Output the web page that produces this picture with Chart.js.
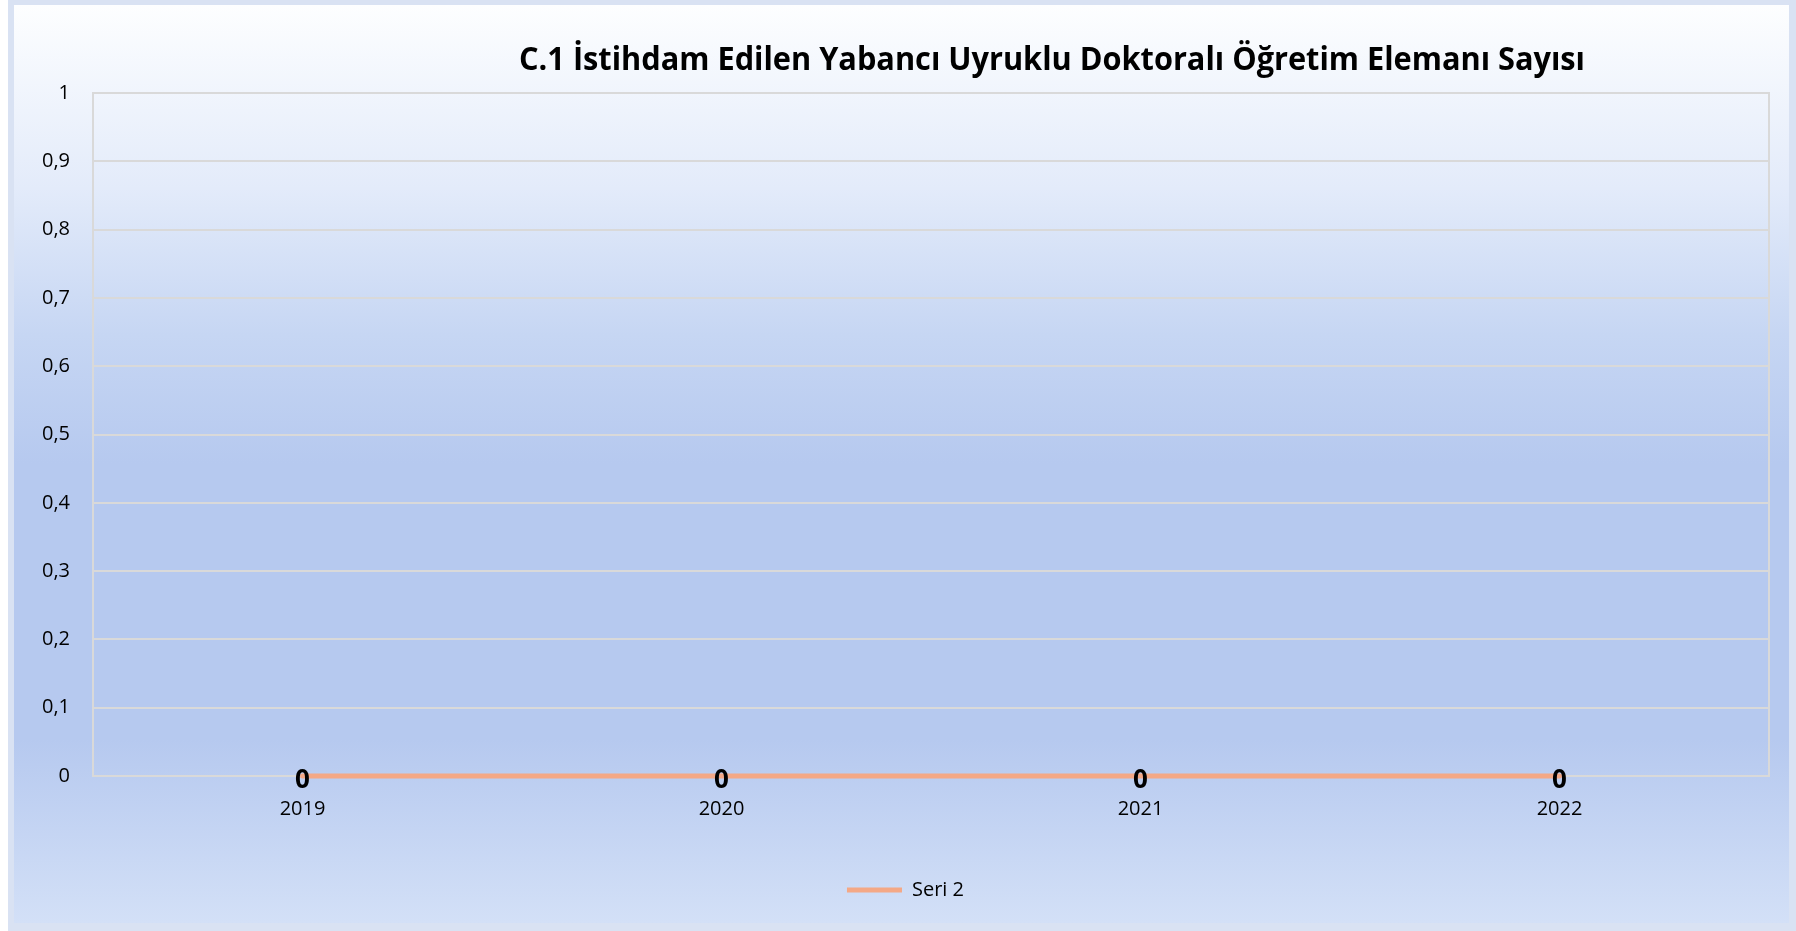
<!DOCTYPE html>
<html>
<head>
<meta charset="utf-8">
<script src="https://cdn.jsdelivr.net/npm/chart.js@4.4.0/dist/chart.umd.min.js"></script>
<style>
	html, body { margin: 0; padding: 0; background: #fff; overflow: hidden; }
	#frame { position: absolute; left: 8px; top: 0; width: 1788px; height: 931px; background: #d9e2f3; }
	#box { position: absolute; left: 6px; top: 5px; width: 1775px; height: 918px;
		background: linear-gradient(to bottom, #fdfeff 0%, #e3ebfa 20%, #c6d6f3 36%, #b6c9ef 50%, #b6c9ef 80%, #d3e0f7 100%); }
</style>
</head>
<body>
<div id="frame"><div id="box"><canvas id="lienzo" width="1775" height="918"></canvas></div></div>
<script>
// data
const titulo = 'C.1 İstihdam Edilen Yabancı Uyruklu Doktoralı Öğretim Elemanı Sayısı';
const years = ['2019', '2020', '2021', '2022'];
const seri2 = [0, 0, 0, 0];
const serieName = 'Seri 2';
const yTickLabels = ['0', '0,1', '0,2', '0,3', '0,4', '0,5', '0,6', '0,7', '0,8', '0,9', '1'];

const GRID = '#d9d9d9';
const SALMON = '#f4a886';

// title + plot frame + value labels
const extras = {
	id: 'extras',
	beforeDatasetsDraw(chart) {
		const { ctx, chartArea: a } = chart;
		ctx.save();
		ctx.strokeStyle = GRID;
		ctx.lineWidth = 2;
		ctx.strokeRect(a.left, a.top, a.right - a.left, a.bottom - a.top);
		ctx.restore();
	},
	afterDatasetsDraw(chart) {
		const ctx = chart.ctx;
		ctx.save();
		ctx.fillStyle = '#000';
		ctx.font = 'bold 33px "Open Sans"';
		ctx.textAlign = 'center';
		ctx.textBaseline = 'middle';
		ctx.fillText(titulo, 1038, 56, 1066);

		ctx.font = 'bold 26px "Open Sans"';
		const meta = chart.getDatasetMeta(0);
		meta.data.forEach((pt, i) => {
			ctx.fillText(String(seri2[i]), pt.x, pt.y + 5);
		});
		ctx.restore();
	}
};

const chart = new Chart(document.getElementById('lienzo'), {
	type: 'line',
	data: {
		labels: years,
		datasets: [{
			label: serieName,
			data: seri2,
			borderColor: SALMON,
			backgroundColor: SALMON,
			borderWidth: 5,
			borderCapStyle: 'round',
			pointRadius: 0,
			pointHoverRadius: 0,
			clip: false
		}]
	},
	options: {
		responsive: false,
		animation: false,
		layout: { padding: { top: 88, left: 28, right: 20, bottom: 13 } },
		plugins: {
			title: { display: false },
			tooltip: { enabled: false },
			legend: {
				position: 'bottom',
				labels: {
					usePointStyle: true,
					pointStyle: 'line',
					pointStyleWidth: 55,
					padding: 10,
					color: '#000',
					font: { family: 'Open Sans', size: 20 }
				}
			}
		},
		scales: {
			x: {
				offset: true,
				grid: { display: false },
				border: { display: false },
				ticks: { color: '#000', padding: 13, font: { family: 'Open Sans', size: 20 } },
				afterFit(scale) { scale.height = 94; }
			},
			y: {
				min: 0,
				max: 1,
				grid: { color: GRID, lineWidth: 2, drawTicks: false },
				border: { display: false },
				ticks: {
					stepSize: 0.1,
					padding: 23,
					color: '#000',
					font: { family: 'Open Sans', size: 20 },
					callback: (v, i) => yTickLabels[i]
				},
				afterFit(scale) { scale.width = 51; }
			}
		}
	},
	plugins: [extras]
});
</script>
</body>
</html>
